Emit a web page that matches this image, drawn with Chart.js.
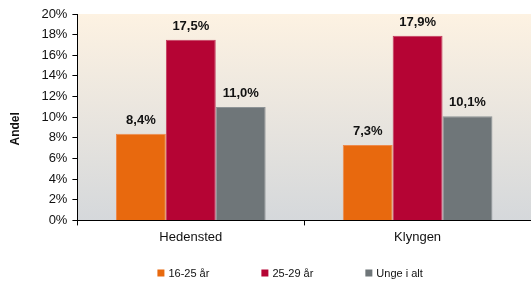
<!DOCTYPE html>
<html><head><meta charset="utf-8">
<script src="https://cdn.jsdelivr.net/npm/chart.js@4/dist/chart.umd.min.js"></script>
<style>html,body{margin:0;padding:0;background:#fff}#wrap{width:531px;height:284px}</style>
</head><body><div id="wrap"><canvas id="c" width="531" height="284"></canvas></div>
<script>
const categories = ["Hedensted", "Klyngen"];
const seriesNames = ["16-25 år", "25-29 år", "Unge i alt"];
const values1625 = [8.4, 7.3];
const values2529 = [17.5, 17.9];
const valuesAll = [11.0, 10.1];
const yTicks = [0, 2, 4, 6, 8, 10, 12, 14, 16, 18, 20];
const colors = ["#e8690e", "#b50434", "#6f7679"];
const borderColors = ["#ee8a4c", "#c43a5e", "#8d9396"];
const FONT = '"Liberation Sans", Arial, sans-serif';

const bgPlugin = {
  id: 'bg',
  beforeDraw(chart) {
    const {ctx, chartArea: a} = chart;
    const g = ctx.createLinearGradient(0, a.top, 0, a.bottom);
    g.addColorStop(0, '#fdf2e2');
    g.addColorStop(1, '#d5d8db');
    ctx.save(); ctx.fillStyle = g; ctx.fillRect(a.left, a.top, a.right - a.left, a.bottom - a.top); ctx.restore();
  }
};
const labelPlugin = {
  id: 'labels',
  afterDatasetsDraw(chart) {
    const ctx = chart.ctx;
    ctx.save();
    ctx.font = 'bold 13px ' + FONT;
    ctx.fillStyle = '#111';
    ctx.textAlign = 'center'; ctx.textBaseline = 'bottom';
    chart.data.datasets.forEach((ds, i) => {
      chart.getDatasetMeta(i).data.forEach((bar, j) => {
        ctx.fillText(ds.data[j].toFixed(1).replace('.', ',') + '%', bar.x, bar.y - 7);
      });
    });
    ctx.restore();
  }
};
const legendPlugin = {
  id: 'customLegend',
  afterDraw(chart) {
    const ctx = chart.ctx;
    ctx.save();
    ctx.font = '11px ' + FONT;
    ctx.textBaseline = 'middle'; ctx.textAlign = 'left';
    const y = 273, box = 7, gap = 52;
    let x = chart.chartArea.left + 80;
    chart.data.datasets.forEach((ds) => {
      ctx.fillStyle = ds.backgroundColor;
      ctx.fillRect(x, y - box / 2, box, box);
      ctx.fillStyle = '#111';
      ctx.fillText(ds.label, x + box + 4, y + 0.5);
      x += box + 4 + ctx.measureText(ds.label).width + gap;
    });
    ctx.restore();
  }
};

new Chart(document.getElementById('c'), {
  type: 'bar',
  data: {
    labels: categories,
    datasets: [values1625, values2529, valuesAll].map((d, i) => ({
      label: seriesNames[i], data: d, backgroundColor: colors[i],
      borderColor: borderColors[i], borderWidth: 1
    }))
  },
  options: {
    responsive: false, animation: false,
    layout: {padding: {left: 8, right: 0, top: 14, bottom: 35}},
    datasets: {bar: {barPercentage: 1, categoryPercentage: 0.66}},
    plugins: {
      tooltip: {enabled: false},
      legend: {display: false}
    },
    scales: {
      x: {
        grid: {display: true, drawOnChartArea: false, drawTicks: true, tickLength: 5, color: '#000', offset: true},
        border: {display: true, color: '#000', width: 1},
        ticks: {color: '#111', padding: 4, font: {family: FONT, size: 13}}
      },
      y: {
        min: 0, max: 20,
        afterBuildTicks(axis) { axis.ticks = yTicks.map(v => ({value: v})); },
        grid: {display: true, drawOnChartArea: false, drawTicks: true, tickLength: 5, color: '#000'},
        border: {display: true, color: '#000', width: 1},
        ticks: {autoSkip: false, color: '#111', padding: 5, font: {family: FONT, size: 13}, callback: v => v + '%'},
        title: {display: true, text: 'Andel\u00a0\u00a0\u00a0\u00a0\u00a0\u00a0\u00a0', color: '#111', padding: {top: 0, bottom: 14}, font: {family: FONT, size: 12, weight: 'bold'}}
      }
    }
  },
  plugins: [bgPlugin, labelPlugin, legendPlugin]
});
</script></body></html>
